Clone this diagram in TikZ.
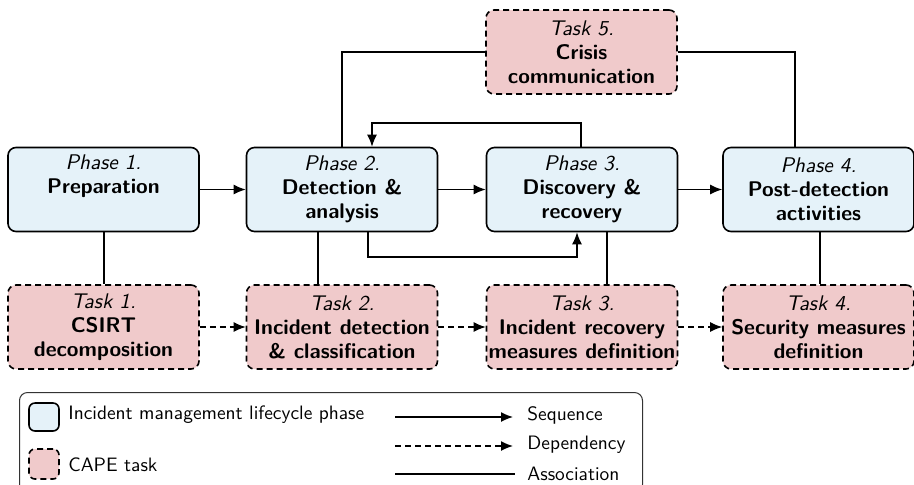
\documentclass[tikz,border=0pt]{standalone}
\usetikzlibrary{arrows.meta}
\definecolor{phasefill}{RGB}{229,242,249}
\definecolor{taskfill}{RGB}{240,202,203}
\newcommand{\boxfont}{\sffamily\fontsize{10.6pt}{12pt}\selectfont}
\newcommand{\legendfont}{\sffamily\fontsize{9.7pt}{12pt}\selectfont}
\tikzset{
  box/.style={draw=black, line width=0.8pt, rounded corners=4pt, minimum width=95.5pt,
    minimum height=42pt, align=center, inner sep=1pt, font=\boxfont},
  phasebox/.style={box, fill=phasefill},
  taskbox/.style={box, fill=taskfill, dash pattern=on 3pt off 2pt},
  seq/.style={line width=0.7pt, -{Latex[length=6pt,width=5pt]}},
  dep/.style={line width=0.7pt, dash pattern=on 3pt off 2pt, -{Latex[length=6pt,width=5pt]}},
  assoc/.style={line width=0.7pt},
  lgtext/.style={anchor=west, font=\legendfont, inner sep=0pt},
}
\begin{document}
\begin{tikzpicture}[x=0.5pt,y=-0.5pt]
\useasboundingbox (0,0) rectangle (914,484);

% lifecycle phases
\node[phasebox] (p1) at (103.5,189.5) {\itshape Phase 1.\\\bfseries Preparation\\\strut};
\node[phasebox] (p2) at (342,189.5) {\itshape Phase 2.\\\bfseries Detection \&\\\bfseries analysis};
\node[phasebox] (p3) at (582,189.5) {\itshape Phase 3.\\\bfseries Discovery \&\\\bfseries recovery};
\node[phasebox] (p4) at (818.5,189.5) {\itshape Phase 4.\\\bfseries Post-detection\\\bfseries activities};

% CAPE tasks
\node[taskbox] (t1) at (103.5,327) {\itshape Task 1.\\\bfseries CSIRT\\\bfseries decomposition};
\node[taskbox] (t2) at (342,327) {\itshape Task 2.\\\bfseries Incident detection\\\bfseries \& classification};
\node[taskbox] (t3) at (582,327) {\itshape Task 3.\\\bfseries Incident recovery\\\bfseries measures definition};
\node[taskbox] (t4) at (818.5,327) {\itshape Task 4.\\\bfseries Security measures\\\bfseries definition};
\node[taskbox] (t5) at (581.5,52) {\itshape Task 5.\\\bfseries Crisis\\\bfseries communication};

% sequence
\draw[seq] (p1) -- (p2);
\draw[seq] (p2) -- (p3);
\draw[seq] (p3) -- (p4);
\coordinate (loopa) at (581,123);
\coordinate (loopb) at (372,123);
\draw[seq] (p3.north -| loopa) -- (loopa) -- (loopb) -- (p2.north -| loopb);
\coordinate (fwda) at (368,257);
\coordinate (fwdb) at (577,257);
\draw[seq] (p2.south -| fwda) -- (fwda) -- (fwdb) -- (p3.south -| fwdb);

% dependency
\draw[dep] (t1) -- (t2);
\draw[dep] (t2) -- (t3);
\draw[dep] (t3) -- (t4);

% association
\coordinate (a1) at (104,0);
\coordinate (a2) at (318,0);
\coordinate (a3) at (607,0);
\coordinate (a4) at (820,0);
\draw[assoc] (p1.south -| a1) -- (t1.north -| a1);
\draw[assoc] (p2.south -| a2) -- (t2.north -| a2);
\draw[assoc] (p3.south -| a3) -- (t3.north -| a3);
\draw[assoc] (p4.south -| a4) -- (t4.north -| a4);
\draw[assoc] (t5.west) -| (p2.north);
\coordinate (a5) at (795,0);
\draw[assoc] (t5.east) -| (p4.north -| a5);

% legend
\node[draw=black!80, line width=0.5pt, rounded corners=4pt, minimum width=311.5pt, minimum height=50pt,
  anchor=north west] (legend) at (19,392) {};
\node[draw=black, line width=0.8pt, rounded corners=3pt, fill=phasefill, minimum width=15pt, minimum height=14pt,
  inner sep=0pt] (lgphase) at (44,417) {};
\node[lgtext] (lgphasetxt) at (68,415) {Incident management lifecycle phase};
\node[draw=black, line width=0.8pt, rounded corners=3pt, fill=taskfill, dash pattern=on 3pt off 2pt,
  minimum width=15pt, minimum height=15pt, inner sep=0pt] (lgtask) at (44,464) {};
\node[lgtext] (lgtasktxt) at (68,465) {CAPE task};

\coordinate (sqa) at (395,417);
\coordinate (sqb) at (513,417);
\draw[seq] (sqa) -- (sqb);
\node[lgtext] (lgseq) at (527,415) {Sequence};
\coordinate (dpa) at (395,446);
\coordinate (dpb) at (513,446);
\draw[dep] (dpa) -- (dpb);
\node[lgtext] (lgdep) at (527,445) {Dependency};
\coordinate (asa) at (395,474);
\coordinate (asb) at (515,474);
\draw[assoc] (asa) -- (asb);
\node[lgtext] (lgassoc) at (527,474) {Association};
\end{tikzpicture}
\end{document}
